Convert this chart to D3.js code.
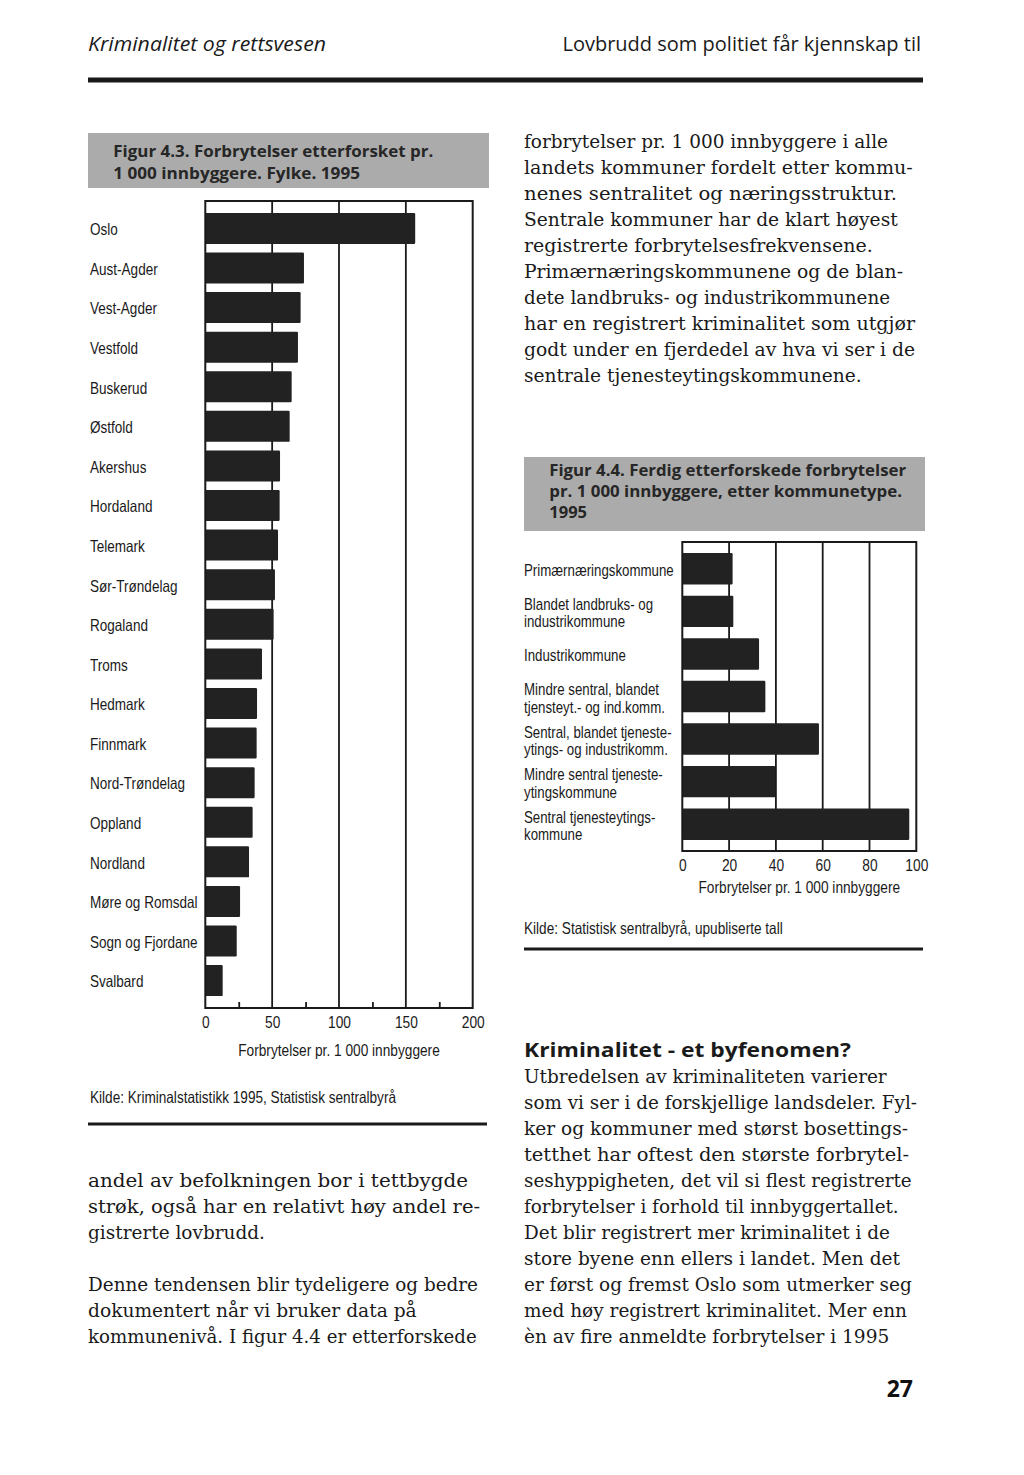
<!DOCTYPE html>
<html><head><meta charset="utf-8">
<script src="https://cdn.jsdelivr.net/npm/d3@7/dist/d3.min.js"></script>
<style>body{margin:0;background:#fff}svg{display:block}</style>
</head><body>
<svg id="page" width="1024" height="1475"></svg>
<script>
// ---------- DATA ----------
const fylker = ["Oslo","Aust-Agder","Vest-Agder","Vestfold","Buskerud","Østfold","Akershus","Hordaland","Telemark","Sør-Trøndelag","Rogaland","Troms","Hedmark","Finnmark","Nord-Trøndelag","Oppland","Nordland","Møre og Romsdal","Sogn og Fjordane","Svalbard"];
const fylkeVerdier = [157,73.8,71.3,69.3,64.6,63.1,55.9,55.6,54.4,52.1,51.1,42.4,38.7,38.4,36.9,35.4,32.7,26,23.5,13];
const ticks43 = [0,50,100,150,200];
const minorTicks43 = [25,75,125,175];

const kommunetyper = [["Primærnæringskommune"],["Blandet landbruks- og","industrikommune"],["Industrikommune"],["Mindre sentral, blandet","tjensteyt.- og ind.komm."],["Sentral, blandet tjeneste-","ytings- og industrikomm."],["Mindre sentral tjeneste-","ytingskommune"],["Sentral tjenesteytings-","kommune"]];
const kommuneVerdier = [21.5,21.8,32.8,35.5,58.4,39.7,97];
const ticks44 = [0,20,40,60,80,100];

const axisTitle = "Forbrytelser pr. 1 000 innbyggere";
const title43 = ["Figur 4.3.  Forbrytelser etterforsket pr.","1 000 innbyggere. Fylke. 1995"];
const title44 = ["Figur 4.4. Ferdig etterforskede forbrytelser","pr. 1 000 innbyggere, etter kommunetype.","1995"];
const kilde43 = "Kilde: Kriminalstatistikk 1995, Statistisk sentralbyrå";
const kilde44 = "Kilde: Statistisk sentralbyrå, upubliserte tall";

const textTopRight = ["forbrytelser pr. 1 000 innbyggere i alle","landets kommuner fordelt etter kommu-","nenes sentralitet og næringsstruktur.","Sentrale kommuner har de klart høyest","registrerte forbrytelsesfrekvensene.","Primærnæringskommunene og de blan-","dete landbruks- og industrikommunene","har en registrert kriminalitet som utgjør","godt under en fjerdedel av hva vi ser i de","sentrale tjenesteytingskommunene."];
const textBottomLeft = ["andel av befolkningen bor i tettbygde","strøk, også har en relativt høy andel re-","gistrerte lovbrudd.","","Denne tendensen blir tydeligere og bedre","dokumentert når vi bruker data på","kommunenivå. I figur 4.4 er etterforskede"];
const headingBR = "Kriminalitet - et byfenomen?";
const textBottomRight = ["Utbredelsen av kriminaliteten varierer","som vi ser i de forskjellige landsdeler. Fyl-","ker og kommuner med størst bosettings-","tetthet har oftest den største forbrytel-","seshyppigheten, det vil si flest registrerte","forbrytelser i forhold til innbyggertallet.","Det blir registrert mer kriminalitet i de","store byene enn ellers i landet. Men det","er først og fremst Oslo som utmerker seg","med høy registrert kriminalitet. Mer enn","èn av fire anmeldte forbrytelser i 1995"];

// ---------- LAYOUT (measured line end x) ----------
const endsTopRight = [888,912.7,897,897.7,872.7,903,890,915,915,861.7];
const endsBottomLeft = [468,480,265,0,478,416.7,476.7];
const endsBottomRight = [886.7,917,908,909,911.7,898.7,890,900,911.7,907,889.3];

const NARROW = "'Liberation Sans',Arial,sans-serif";
const SANS = "'Open Sans','Noto Sans',sans-serif";
const SERIF = "'DejaVu Serif','Liberation Serif',serif";
const INK = "#1a1a1a";
const CONDENSE = 0.82;

function condense(sel){
  sel.each(function(){
    const w = this.getComputedTextLength();
    d3.select(this).attr("textLength", w*CONDENSE).attr("lengthAdjust","spacingAndGlyphs");
  });
  return sel;
}

const svg = d3.select("#page");
svg.append("rect").attr("width",1024).attr("height",1475).attr("fill","#fff");

// header
svg.append("text").attr("x",88).attr("y",51).attr("font-family",SANS).attr("font-style","italic")
  .attr("font-size",20).attr("fill",INK).attr("textLength",238).attr("lengthAdjust","spacingAndGlyphs")
  .text("Kriminalitet og rettsvesen");
svg.append("text").attr("x",921).attr("y",51).attr("font-family",SANS).attr("text-anchor","end")
  .attr("font-size",20).attr("fill",INK)
  .text("Lovbrudd som politiet får kjennskap til");
svg.append("rect").attr("x",88).attr("y",77.5).attr("width",835).attr("height",5).attr("fill",INK);

function textBlock(lines, ends, x, y0, step, opts) {
  lines.forEach((t,i)=>{
    if(!t) return;
    const el = svg.append("text").attr("x",x).attr("y",y0+i*step)
      .attr("font-family",opts.family).attr("font-size",opts.size).attr("fill",INK)
      .attr("font-weight",opts.weight||"normal").text(t);
    if(ends && ends[i]) el.attr("textLength",ends[i]-x).attr("lengthAdjust","spacingAndGlyphs");
  });
}

function titleBox(x,y,w,h,lines,tx,baselines,ends){
  svg.append("rect").attr("x",x).attr("y",y).attr("width",w).attr("height",h).attr("fill","#ababab");
  lines.forEach((t,i)=>{
    svg.append("text").attr("x",tx).attr("y",baselines[i]).attr("font-family",SANS).attr("font-weight","bold")
      .attr("font-size",16.5).attr("fill","#262626")
      .attr("textLength",ends[i]-tx).attr("lengthAdjust","spacingAndGlyphs").text(t);
  });
}

function barChart(cfg){
  const g = svg.append("g");
  const x = d3.scaleLinear().domain([0,cfg.max]).range([cfg.x0,cfg.x1]);
  const y = d3.scaleBand().domain(d3.range(cfg.cats.length)).range([cfg.y0,cfg.y1])
    .paddingInner(cfg.pi).paddingOuter(cfg.po);
  // gridlines
  g.selectAll("line.grid").data(cfg.ticks.slice(1,-1)).join("line")
    .attr("x1",d=>x(d)).attr("x2",d=>x(d)).attr("y1",cfg.y0).attr("y2",cfg.y1)
    .attr("stroke",INK).attr("stroke-width",1.8);
  // bars
  g.selectAll("rect.bar").data(cfg.vals).join("rect")
    .attr("x",x(0)).attr("y",(d,i)=>y(i)).attr("width",d=>x(d)-x(0)).attr("height",y.bandwidth())
    .attr("rx",1.2).attr("fill","#222");
  // frame
  g.append("rect").attr("x",cfg.x0).attr("y",cfg.y0).attr("width",cfg.x1-cfg.x0).attr("height",cfg.y1-cfg.y0)
    .attr("fill","none").attr("stroke",INK).attr("stroke-width",2);
  // minor ticks
  if(cfg.minor){
    const m = g.append("g").attr("transform",`translate(0,${cfg.y1})`)
      .call(d3.axisBottom(x).tickValues(cfg.minor).tickSizeInner(-6).tickSizeOuter(0).tickFormat(""));
    m.select(".domain").remove();
    m.selectAll("line").attr("stroke",INK).attr("stroke-width",1.8);
  }
  // tick labels
  const ax = g.append("g").attr("transform",`translate(0,${cfg.y1})`)
    .call(d3.axisBottom(x).tickValues(cfg.ticks).tickSize(0).tickPadding(8.3));
  ax.select(".domain").remove();
  condense(ax.selectAll("text").attr("font-family",NARROW).attr("font-size",16.8).attr("fill",INK));
  // axis title
  condense(g.append("text").attr("x",(cfg.x0+cfg.x1)/2).attr("y",cfg.titleY).attr("text-anchor","middle")
    .attr("font-family",NARROW).attr("font-size",16.7).attr("fill",INK).text(axisTitle));
  // category labels
  cfg.cats.forEach((c,i)=>{
    const lines = Array.isArray(c)?c:[c];
    const cy = y(i)+y.bandwidth()/2 + cfg.labelShift;
    lines.forEach((t,j)=>{
      condense(g.append("text").attr("x",cfg.labelX).attr("y",cy + (j-(lines.length-1)/2)*cfg.lineStep + 5.8)
        .attr("font-family",NARROW).attr("font-size",cfg.labelSize).attr("fill",INK).text(t));
    });
  });
  // kilde + rule
  const k = g.append("text").attr("x",cfg.labelX).attr("y",cfg.kildeY).attr("font-family",NARROW)
    .attr("font-size",16.5).attr("fill",INK).text(cfg.kilde)
    .attr("textLength",cfg.kildeEnd-cfg.labelX).attr("lengthAdjust","spacingAndGlyphs");
  g.append("rect").attr("x",cfg.ruleX0).attr("y",cfg.ruleY-1.5).attr("width",cfg.ruleX1-cfg.ruleX0).attr("height",3).attr("fill",INK);
}

// Figure 4.3
titleBox(88,133,401,55,title43,113.3,[157,178.5],[433.3,360]);
barChart({cats:fylker, vals:fylkeVerdier, max:200, ticks:ticks43, minor:minorTicks43,
  x0:205.3, x1:472.7, y0:201, y1:1008, pi:0.217, po:0.3,
  labelX:90, labelSize:16.5, labelShift:1, lineStep:17.5,
  titleY:1056, kilde:kilde43, kildeY:1103, kildeEnd:396, ruleX0:88, ruleX1:487, ruleY:1124});

// Figure 4.4
titleBox(524,457,401,74,title44,549.3,[476,497,518],[906,902,587]);
barChart({cats:kommunetyper, vals:kommuneVerdier, max:100, ticks:ticks44, minor:null,
  x0:682.3, x1:916.3, y0:542, y1:851, pi:0.26, po:0.26,
  labelX:524, labelSize:16.2, labelShift:1.5, lineStep:17.5,
  titleY:892.5, kilde:kilde44, kildeY:934, kildeEnd:782.7, ruleX0:524, ruleX1:923, ruleY:949});

// body text
textBlock(textTopRight, endsTopRight, 524, 148, 26, {family:SERIF, size:18.5});
textBlock(textBottomLeft, endsBottomLeft, 88, 1187, 26, {family:SERIF, size:18.5});
svg.append("text").attr("x",524).attr("y",1057).attr("font-family",SANS).attr("font-weight","bold")
  .attr("font-size",20).attr("fill",INK).attr("textLength",327).attr("lengthAdjust","spacingAndGlyphs").text(headingBR);
textBlock(textBottomRight, endsBottomRight, 524, 1083, 26, {family:SERIF, size:18.5});

// page number
svg.append("text").attr("x",913).attr("y",1397).attr("text-anchor","end").attr("font-family",SANS)
  .attr("font-weight","bold").attr("font-size",23).attr("fill","#111").text("27");
</script>
</body></html>
